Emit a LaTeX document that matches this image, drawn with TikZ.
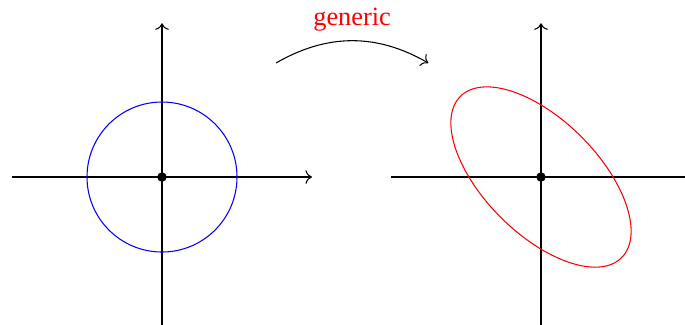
\documentclass[tikz,border=0pt]{standalone}
\usepackage{fontspec}
\setmainfont{Liberation Serif}
\usetikzlibrary{arrows.meta, positioning}
\begin{document}
\begin{tikzpicture}[
		axisline/.style={black},
		axisarrow/.style={->, black},
		origindot/.style={circle, fill=black, inner sep=0pt, minimum size=3.6pt},
		maparrow/.style={->, black},
		maptext/.style={text=red, font=\normalsize}
		]
		\useasboundingbox (-2.16,-1.973) rectangle (6.973,2.36);
		
		% left plane
		\coordinate (lo) at (0,0);
		\coordinate (lxmin) at (-2,0);
		\coordinate (lxmax) at (2,0);
		\coordinate (lymin) at (0,-1.973);
		\coordinate (lymax) at (0,2.05);
		\draw[axisarrow] (lxmin) -- (lxmax);
		\draw[axisarrow] (lymin) -- (lymax);
		\draw[blue] (lo) circle (1);
		\node[origindot] (ldot) at (lo) {};
		
		% right plane
		\coordinate (ro) at (5.053,0);
		\coordinate (rxmin) at (3.053,0);
		\coordinate (rxmax) at (6.973,0);
		\coordinate (rymin) at (5.053,-1.973);
		\coordinate (rymax) at (5.053,2.05);
		\draw[axisline] (rxmin) -- (rxmax);
		\draw[axisarrow] (rymin) -- (rymax);
		\draw[red, rotate around={-45:(ro)}] (ro) ellipse (1.52 and 0.76);
		\node[origindot] (rdot) at (ro) {};
		
		% map arrow
		\coordinate (mapstart) at (1.52,1.52);
		\coordinate (mapend) at (3.55,1.52);
		\draw[maparrow] (mapstart) to[bend left=30] node[maptext, above] (maplabel) {generic} (mapend);
	\end{tikzpicture}
\end{document}
